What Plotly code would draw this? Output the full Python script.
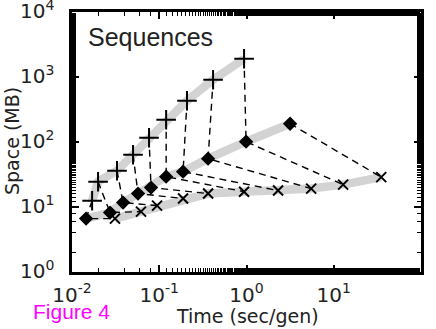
import plotly.graph_objects as go

# Data (time in sec/gen, space in MB)
plus_time = [0.0170, 0.0199, 0.0328, 0.0501, 0.0764, 0.120, 0.208, 0.414, 0.938]
plus_space = [12.5, 24.5, 36.2, 63.8, 116, 220, 431, 906, 1905]
diam_time = [0.0145, 0.0273, 0.0385, 0.0571, 0.0805, 0.120, 0.1875, 0.363, 0.989, 3.16]
diam_space = [6.63, 8.20, 11.7, 16.1, 19.9, 29.3, 35.0, 55.4, 101, 191]
x_time = [0.0311, 0.0618, 0.0944, 0.1875, 0.363, 0.938, 2.30, 5.51, 12.8, 35.0]
x_space = [6.63, 8.50, 10.5, 13.5, 16.1, 17.2, 17.9, 19.2, 22.1, 28.8]

tick_vals = [1e-2, 1e-1, 1e0, 1e1, 1e2]
tick_text_x = ["10<sup>-2</sup>", "10<sup>-1</sup>", "10<sup>0</sup>", "10<sup>1</sup>", "10<sup>2</sup>"]
ytick_exp = [0, 1, 2, 3, 4]
tick_text_y = ["10<sup>0</sup>", "10<sup>1</sup>", "10<sup>2</sup>", "10<sup>3</sup>", "10<sup>4</sup>"]

fig = go.Figure()

GRAY = "#d3d3d3"
for tx, sy in [(plus_time, plus_space), (diam_time, diam_space), (x_time, x_space)]:
    fig.add_trace(go.Scatter(x=tx, y=sy, mode="lines",
                             line=dict(color=GRAY, width=8.5), hoverinfo="skip"))

# dashed connectors: plus -> diamond -> x for each configuration
dx, dy = [], []
for i in range(len(diam_time)):
    if i < len(plus_time):
        dx.append(plus_time[i]); dy.append(plus_space[i])
    dx += [diam_time[i], x_time[i], None]
    dy += [diam_space[i], x_space[i], None]
fig.add_trace(go.Scatter(x=dx, y=dy, mode="lines",
                         line=dict(color="black", width=1.4, dash="7px,5px"),
                         connectgaps=False, hoverinfo="skip"))

fig.add_trace(go.Scatter(x=plus_time, y=plus_space, mode="markers",
                         marker=dict(symbol="cross-thin", size=14,
                                     line=dict(color="black", width=2))))
fig.add_trace(go.Scatter(x=diam_time, y=diam_space, mode="markers",
                         marker=dict(symbol="diamond", size=11, color="black")))
fig.add_trace(go.Scatter(x=x_time, y=x_space, mode="markers",
                         marker=dict(symbol="x-thin", size=10,
                                     line=dict(color="black", width=2))))

TICKFONT = dict(family="DejaVu Sans", size=20, color="#222222")
axis_common = dict(
    type="log", showgrid=False, zeroline=False, automargin=False,
    showline=True, linecolor="black", linewidth=2.5, mirror="allticks",
    ticks="inside", ticklen=7, tickwidth=1.5, tickcolor="black",
    minor=dict(ticks="inside", ticklen=4, tickwidth=1, tickcolor="black", showgrid=False),
    tickfont=TICKFONT,
)

fig.update_xaxes(**axis_common, range=[-2, 2], tickvals=tick_vals, ticktext=tick_text_x,
                 ticklabelstandoff=3)
fig.update_yaxes(**axis_common, range=[0, 4], tickvals=[10 ** e for e in ytick_exp],
                 showticklabels=False)

fig.update_layout(
    width=436, height=329,
    margin=dict(l=72, r=15, t=12, b=57),
    paper_bgcolor="white", plot_bgcolor="white",
    showlegend=False,
)

PW, PH = 349.0, 260.0  # plot-area size in pixels (x 72..421, y 12..272 on the page)

def px(x):
    return (x - 72) / PW

def py(y):
    return (272 - y) / PH

# y tick labels, placed on the y axis scale (log axis -> exponent units)
for e, t in zip(ytick_exp, tick_text_y):
    fig.add_annotation(x=px(56), y=e, xref="paper", yref="y", text=t, showarrow=False,
                       xanchor="right", yanchor="middle", yshift=2, font=TICKFONT)

fig.add_annotation(x=px(12), y=py(141), xref="paper", yref="paper", text="Space (MB)",
                   showarrow=False, textangle=-90, xanchor="center", yanchor="middle",
                   font=dict(family="DejaVu Sans", size=19, color="#222222"))
fig.add_annotation(x=px(247), y=py(316), xref="paper", yref="paper", text="Time (sec/gen)",
                   showarrow=False, xanchor="center", yanchor="middle",
                   font=dict(family="DejaVu Sans", size=19, color="#222222"))
fig.add_annotation(x=px(86), y=py(37), xref="paper", yref="paper", text="Sequences",
                   showarrow=False, xanchor="left", yanchor="middle",
                   font=dict(family="Liberation Sans", size=25, color="#222222"))
fig.add_annotation(x=px(71), y=py(311), xref="paper", yref="paper",
                   text="Figure 4", showarrow=False, xanchor="center", yanchor="middle",
                   font=dict(family="Liberation Sans", size=21, color="#ff00ff"))

# remove the browser's default body margin so the 436x329 figure fills the window exactly
fig.write_html("out.html", config={"displayModeBar": False},
               post_script="document.body.style.margin='0';document.body.style.overflow='hidden';")
